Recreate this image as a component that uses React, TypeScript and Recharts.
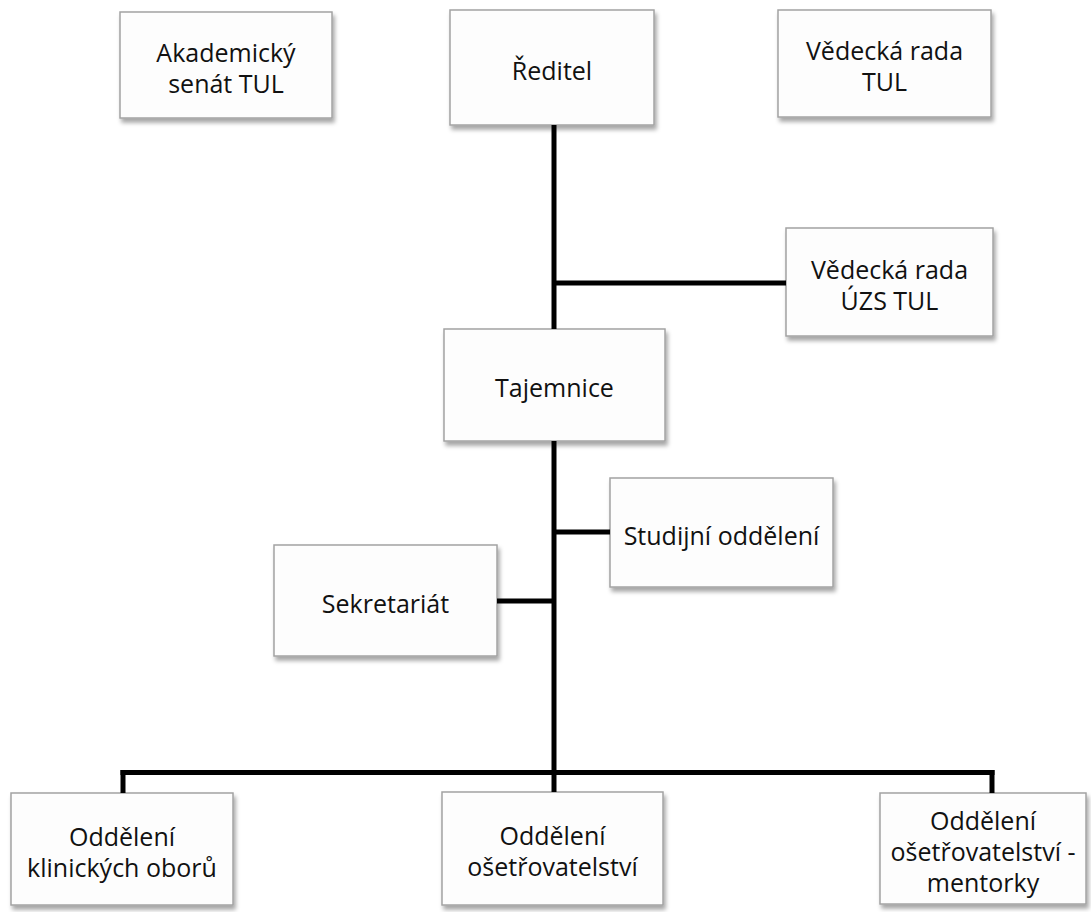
import React from 'react';
import { ComposedChart, XAxis, YAxis, ReferenceArea, ReferenceLine } from 'recharts';

// org units (diagram units = page pixels of the original sheet)
const units = [
  'Akademický\nsenát TUL',
  'Ředitel',
  'Vědecká rada\nTUL',
  'Vědecká rada\nÚZS TUL',
  'Tajemnice',
  'Studijní oddělení',
  'Sekretariát',
  'Oddělení\nklinických oborů',
  'Oddělení\nošetřovatelství',
  'Oddělení\nošetřovatelství -\nmentorky',
];
const unitLeft = [120, 450, 778, 786, 444, 610, 274, 11, 442, 880];
const unitRight = [332, 654, 991, 993, 665, 833, 497, 233, 663, 1086];
const unitTop = [12, 10, 10, 228, 329, 478, 545, 793, 792, 793];
const unitBottom = [118, 125, 117, 336, 441, 587, 656, 905, 905, 904];

// connectors
const linkX1 = [554, 554, 554, 554, 497, 120.5, 123, 554, 992];
const linkY1 = [125, 283, 441, 532, 601, 772.5, 770, 770, 770];
const linkX2 = [554, 786, 554, 610, 554, 994.5, 123, 554, 992];
const linkY2 = [329, 283, 772, 532, 601, 772.5, 793, 792, 793];

const W = 1091;
const H = 912;
const FONT = '"Open Sans", "Noto Sans", sans-serif';
const LINE_H = 31;

const UnitBox = (props: any) => {
  const { x, y, width, height, label } = props;
  const lines: string[] = label.split('\n');
  const cx = x + width / 2;
  const cy = y + height / 2 + 2;
  const start = cy - ((lines.length - 1) * LINE_H) / 2;
  return (
    <g>
      <rect
        x={x}
        y={y}
        width={width}
        height={height}
        fill="#fdfdfd"
        stroke="#a3a3a3"
        strokeWidth={1.5}
        filter="url(#boxShadow)"
      />
      {lines.map((t, i) => (
        <text
          key={i}
          x={cx}
          y={start + i * LINE_H}
          textAnchor="middle"
          dominantBaseline="central"
          fontFamily={FONT}
          fontSize={25}
          fill="#111"
        >
          {t}
        </text>
      ))}
    </g>
  );
};

export default function App() {
  return (
    <div style={{ position: 'absolute', left: 0, top: 0, background: '#fff' }}>
      <ComposedChart width={W} height={H} margin={{ top: 0, right: 0, bottom: 0, left: 0 }} data={[]}>
        <defs>
          <filter id="boxShadow" x="-10%" y="-10%" width="125%" height="130%">
            <feDropShadow dx="2" dy="4" stdDeviation="2.2" floodColor="#000" floodOpacity="0.35" />
          </filter>
        </defs>
        <XAxis type="number" dataKey="x" domain={[0, W]} hide allowDataOverflow />
        <YAxis type="number" dataKey="y" domain={[0, H]} reversed hide allowDataOverflow />
        {linkX1.map((_, i) => (
          <ReferenceLine
            key={'l' + i}
            segment={[
              { x: linkX1[i], y: linkY1[i] },
              { x: linkX2[i], y: linkY2[i] },
            ]}
            stroke="#000"
            strokeWidth={5}
            ifOverflow="visible"
          />
        ))}
        {units.map((u, i) => (
          <ReferenceArea
            key={'u' + i}
            x1={unitLeft[i]}
            x2={unitRight[i]}
            y1={unitTop[i]}
            y2={unitBottom[i]}
            ifOverflow="visible"
            shape={(p: any) => <UnitBox {...p} label={u} />}
          />
        ))}
      </ComposedChart>
    </div>
  );
}
